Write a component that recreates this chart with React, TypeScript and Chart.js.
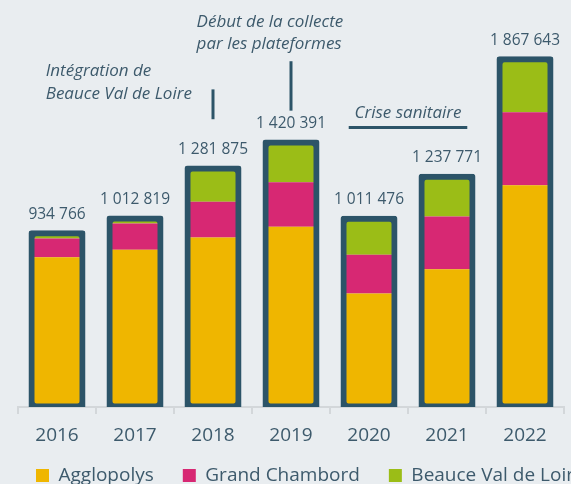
import React, { useEffect, useRef } from 'react';
import { Chart, registerables } from 'chart.js';

Chart.register(...registerables);

// ---- Data ----
const years = ['2016', '2017', '2018', '2019', '2020', '2021', '2022'];
const totals = [934766, 1012819, 1281875, 1420391, 1011476, 1237771, 1867643];
const agglopolys = [803000, 843000, 909000, 966000, 609000, 739000, 1189000];
const grandChambord = [100000, 141000, 191000, 239000, 207500, 282600, 391000];
const beauceValDeLoire = [31766, 28819, 181875, 215391, 194976, 216171, 287643];
const seriesNames = ['Agglopolys', 'Grand Chambord', 'Beauce Val de Loire'];

// annotations (anchored on category index / value)
const noteIntegration = {
  lines: ['Intégration de', 'Beauce Val de Loire'],
  index: -0.145,
  values: [1775000, 1653000],
  tick: { index: 2, from: 1703000, to: 1543000 },
};
const noteDebut = {
  lines: ['Début de la collecte', 'par les plateformes'],
  index: 1.79,
  values: [2039000, 1920000],
  tick: { index: 3, from: 1854000, to: 1589000 },
};
const noteCrise = {
  text: 'Crise sanitaire',
  index: 4.5,
  value: 1548000,
  rule: { from: 3.74, to: 5.26, value: 1498000 },
};

const COLORS = {
  agglo: '#efb600',
  chambord: '#d72873',
  beauce: '#9bbd17',
  frame: '#2c5468',
  text: '#3d5a6c',
  axis: '#d3d7da',
  bg: '#e9edf0',
};

const FONT = '"Open Sans", "Noto Sans", sans-serif';

const fmt = (n: number) => String(n).replace(/\B(?=(\d{3})+(?!\d))/g, ' ');

const totalLabelsPlugin = {
  id: 'totalLabels',
  afterDatasetsDraw(chart: any) {
    const meta = chart.getDatasetMeta(0);
    const ctx = chart.ctx;
    ctx.save();
    ctx.font = `15.5px ${FONT}`;
    ctx.fillStyle = COLORS.text;
    ctx.textAlign = 'center';
    ctx.textBaseline = 'alphabetic';
    meta.data.forEach((bar: any, i: number) => {
      ctx.fillText(fmt(totals[i]), bar.x, bar.y - 14);
    });
    ctx.restore();
  },
};

const notesPlugin = {
  id: 'notes',
  afterDraw(chart: any) {
    const { ctx } = chart;
    const x = chart.scales.x;
    const y = chart.scales.y;
    ctx.save();
    ctx.font = `italic 17px ${FONT}`;
    ctx.fillStyle = COLORS.text;
    ctx.strokeStyle = COLORS.frame;
    ctx.lineWidth = 3;
    ctx.textBaseline = 'alphabetic';

    ctx.textAlign = 'left';
    [noteIntegration, noteDebut].forEach((n) => {
      n.lines.forEach((t, k) => {
        ctx.fillText(t, x.getPixelForValue(n.index), y.getPixelForValue(n.values[k]));
      });
      const px = x.getPixelForValue(n.tick.index);
      ctx.beginPath();
      ctx.moveTo(px, y.getPixelForValue(n.tick.from));
      ctx.lineTo(px, y.getPixelForValue(n.tick.to));
      ctx.stroke();
    });

    ctx.textAlign = 'center';
    ctx.fillText(noteCrise.text, x.getPixelForValue(noteCrise.index), y.getPixelForValue(noteCrise.value));
    const ry = y.getPixelForValue(noteCrise.rule.value);
    ctx.beginPath();
    ctx.moveTo(x.getPixelForValue(noteCrise.rule.from), ry);
    ctx.lineTo(x.getPixelForValue(noteCrise.rule.to), ry);
    ctx.stroke();
    ctx.restore();
  },
};

export default function App() {
  const ref = useRef<HTMLCanvasElement | null>(null);

  useEffect(() => {
    if (!ref.current) return;
    Chart.defaults.font.family = FONT;
    const common = { grouped: false, barPercentage: 52 / 78, categoryPercentage: 1, stack: 'main', borderWidth: 0 };
    const chart = new Chart(ref.current, {
      type: 'bar',
      data: {
        labels: years,
        datasets: [
          {
            label: 'Total',
            data: totals,
            stack: 'frame',
            grouped: false,
            barPercentage: 52 / 78,
            categoryPercentage: 1,
            backgroundColor: 'rgba(0,0,0,0)',
            borderColor: COLORS.frame,
            borderWidth: 1,
            borderSkipped: false,
            borderRadius: 3,
            inflateAmount: 2.5,
          } as any,
          { ...common, label: seriesNames[0], data: agglopolys, backgroundColor: COLORS.agglo } as any,
          { ...common, label: seriesNames[1], data: grandChambord, backgroundColor: COLORS.chambord } as any,
          { ...common, label: seriesNames[2], data: beauceValDeLoire, backgroundColor: COLORS.beauce } as any,
        ],
      },
      options: {
        responsive: false,
        animation: false,
        devicePixelRatio: 1,
        events: [],
        layout: { padding: { top: 34, left: 7, right: 0, bottom: 0 } },
        scales: {
          x: {
            grid: {
              display: true,
              offset: true,
              drawOnChartArea: false,
              drawTicks: true,
              tickLength: 7,
              color: COLORS.axis,
              lineWidth: 2,
            },
            border: { display: true, color: COLORS.axis, width: 2 },
            ticks: { color: COLORS.text, font: { size: 19, family: FONT }, padding: 10 },
            afterFit: (s: any) => {
              s.height = 30;
              // let the year labels run below the (compact) axis box
              s._computeLabelArea = () => undefined;
            },
          },
          y: {
            stacked: true,
            min: 0,
            max: 2000000,
            display: true,
            grid: { display: false },
            border: { display: false },
            ticks: { display: false },
            afterFit: (s: any) => {
              s.width = 11;
            },
          },
          yR: {
            type: 'linear',
            position: 'right',
            display: true,
            grid: { display: false },
            border: { display: false },
            ticks: { display: false },
            afterFit: (s: any) => {
              s.width = 76;
            },
          },
        } as any,
        plugins: {
          legend: {
            position: 'bottom',
            align: 'start',
            labels: {
              boxWidth: 13,
              boxHeight: 13,
              padding: 29,
              color: COLORS.text,
              font: { size: 19, family: FONT },
              filter: (item: any) => item.datasetIndex !== 0,
            },
          },
          tooltip: { enabled: false },
        },
      },
      plugins: [totalLabelsPlugin, notesPlugin],
    });
    return () => chart.destroy();
  }, []);

  return (
    <div
      style={{
        position: 'fixed',
        left: 0,
        top: 0,
        width: 571,
        height: 484,
        overflow: 'hidden',
        background: COLORS.bg,
      }}
    >
      <canvas ref={ref} width={640} height={495} style={{ display: 'block' }} />
    </div>
  );
}
